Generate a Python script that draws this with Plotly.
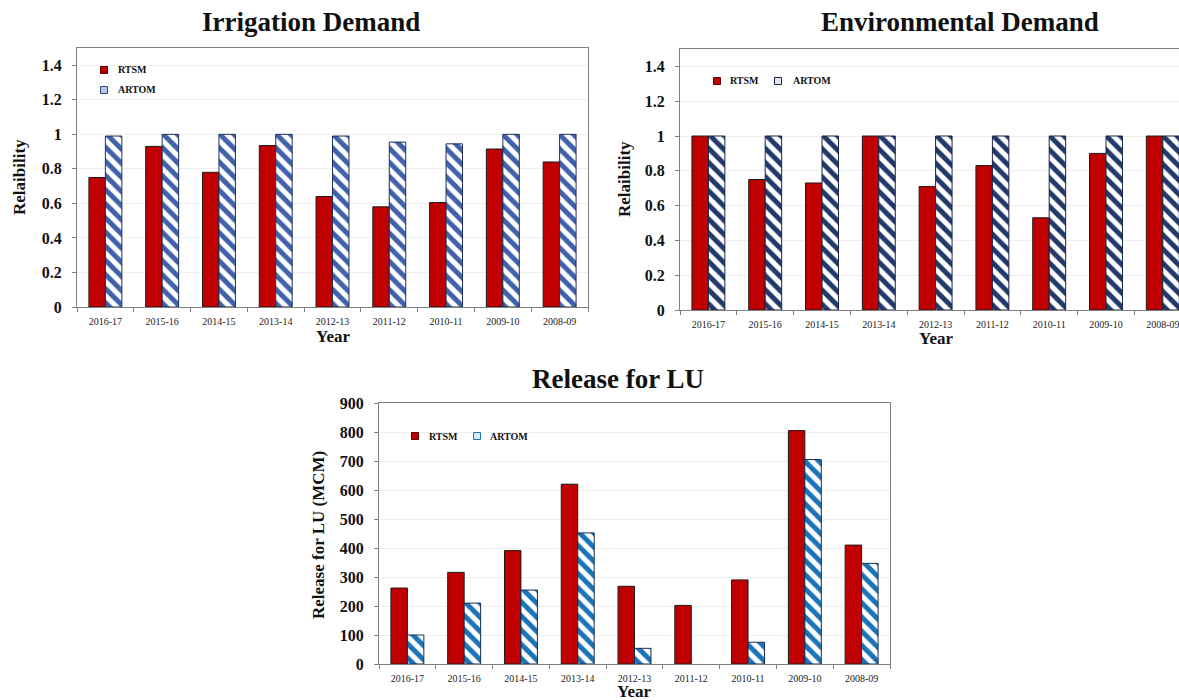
import plotly.graph_objects as go

# ---------------- data ----------------
years = ["2016-17", "2015-16", "2014-15", "2013-14", "2012-13",
         "2011-12", "2010-11", "2009-10", "2008-09"]

irr_rtsm = [0.75, 0.93, 0.78, 0.935, 0.64, 0.58, 0.605, 0.915, 0.84]
irr_artom = [0.99, 1.0, 1.0, 1.0, 0.99, 0.955, 0.945, 1.0, 1.0]

env_rtsm = [1.0, 0.75, 0.73, 1.0, 0.71, 0.83, 0.53, 0.90, 1.0]
env_artom = [1.0, 1.0, 1.0, 1.0, 1.0, 1.0, 1.0, 1.0, 1.0]

lu_rtsm = [262, 316, 391, 620, 268, 202, 290, 805, 410]
lu_artom = [100, 210, 255, 452, 54, 0, 75, 705, 347]

series_names = ["RTSM", "ARTOM"]

# ---------------- styling ----------------
W, H = 1179, 700
SERIF = "Liberation Serif"
RED = "#C00000"
EDGE = "#1c1c1c"
AXIS = "#808080"
GRID = "#eeeeee"


def px(x):
    return x / W


def py(y):
    return 1 - y / H


fig = go.Figure()


def outline(values, w=1):
    # zero-height bars get no outline
    return [w if v else 0 for v in values]


def add_pair(xa, ya, rtsm, artom, stripe, edge):
    fig.add_trace(go.Bar(
        x=years, y=rtsm, name=series_names[0], xaxis=xa, yaxis=ya,
        marker=dict(color=RED, line=dict(color=EDGE, width=outline(rtsm))),
        showlegend=False,
    ))
    fig.add_trace(go.Bar(
        x=years, y=artom, name=series_names[1], xaxis=xa, yaxis=ya,
        marker=dict(color="white", line=dict(color=edge, width=outline(artom)),
                    pattern=dict(shape="\\", fgcolor=stripe, bgcolor="white",
                                 fgopacity=1, size=10, solidity=0.5)),
        showlegend=False,
    ))


add_pair("x", "y", irr_rtsm, irr_artom, "#3f62aa", "#1f2f55")
add_pair("x2", "y2", env_rtsm, env_artom, "#22396b", "#1a2545")
add_pair("x3", "y3", lu_rtsm, lu_artom, "#1a74b8", "#1a2a50")

xcommon = dict(
    type="category", showline=True, linecolor=AXIS, linewidth=1, mirror=True,
    ticks="outside", tickson="boundaries", ticklen=4, tickcolor=AXIS,
    ticklabelstandoff=5,
    tickfont=dict(family=SERIF, size=10, color="#222222"),
    showgrid=False, fixedrange=True,
)
ycommon = dict(
    showline=True, linecolor=AXIS, linewidth=1, mirror=True,
    ticks="outside", ticklen=4, tickcolor=AXIS, ticklabelstandoff=7,
    tickfont=dict(family=SERIF, size=16, color="#111111", weight="bold"),
    showgrid=True, gridcolor=GRID, gridwidth=1, zeroline=False, fixedrange=True,
)

fig.update_layout(
    width=W, height=H,
    margin=dict(l=0, r=0, t=0, b=0, autoexpand=False),
    paper_bgcolor="white", plot_bgcolor="white",
    barmode="group", bargap=0.42, bargroupgap=0,
    showlegend=False,
    xaxis=dict(xcommon, domain=[px(77), px(588)], anchor="y", range=[-0.5, 8.5]),
    yaxis=dict(ycommon, domain=[py(307), py(48)], anchor="x",
               range=[0, 1.5], tick0=0, dtick=0.2),
    xaxis2=dict(xcommon, domain=[px(680), 1.0], anchor="y2",
                range=[-0.5, -0.5 + (W - 680) / 56.8]),
    yaxis2=dict(ycommon, domain=[py(310), py(49)], anchor="x2",
                range=[0, 1.5], tick0=0, dtick=0.2),
    xaxis3=dict(xcommon, domain=[px(379), px(890)], anchor="y3", range=[-0.5, 8.5]),
    yaxis3=dict(ycommon, domain=[py(664), py(403)], anchor="x3",
                range=[0, 900], tick0=0, dtick=100),
)

annotations = []


def text(x, y, s, size, bold=True, angle=0, xanchor="center"):
    annotations.append(dict(
        x=px(x), y=py(y), xref="paper", yref="paper", text=s, showarrow=False,
        xanchor=xanchor, yanchor="middle", textangle=angle,
        font=dict(family=SERIF, size=size, color="#111111",
                  weight="bold" if bold else "normal"),
    ))


# chart titles
text(311, 22, "Irrigation Demand", 27)
text(960, 22, "Environmental Demand", 27)
text(618, 379, "Release for LU", 27)

# axis titles
text(19, 177, "Relaibility", 17, angle=-90)
text(624, 179, "Relaibility", 17, angle=-90)
text(318, 535, "Release for LU (MCM)", 17, angle=-90)
text(333, 336, "Year", 17)
text(936, 339, "Year", 17)
text(634, 691, "Year", 17)

# legend keys
shapes = []


def key(cx, cy, label, fill, line, tx):
    shapes.append(dict(
        type="rect", xref="paper", yref="paper",
        x0=px(cx - 3.5), x1=px(cx + 3.5), y0=py(cy + 3.5), y1=py(cy - 3.5),
        fillcolor=fill, line=dict(color=line, width=1),
    ))
    text(tx, cy, label, 10, xanchor="left")


key(104, 70, series_names[0], RED, "#5a0000", 116)
key(104, 90, series_names[1], "#b9c6e6", "#2f4a80", 116)
key(717, 81, series_names[0], RED, "#5a0000", 728)
key(778, 81, series_names[1], "#dfe5f2", "#1a2545", 791)
key(415, 436, series_names[0], RED, "#5a0000", 427)
key(477, 436, series_names[1], "#d8e8f5", "#1a74b8", 488)

fig.update_layout(annotations=annotations, shapes=shapes)

fig.write_html("out.html")
